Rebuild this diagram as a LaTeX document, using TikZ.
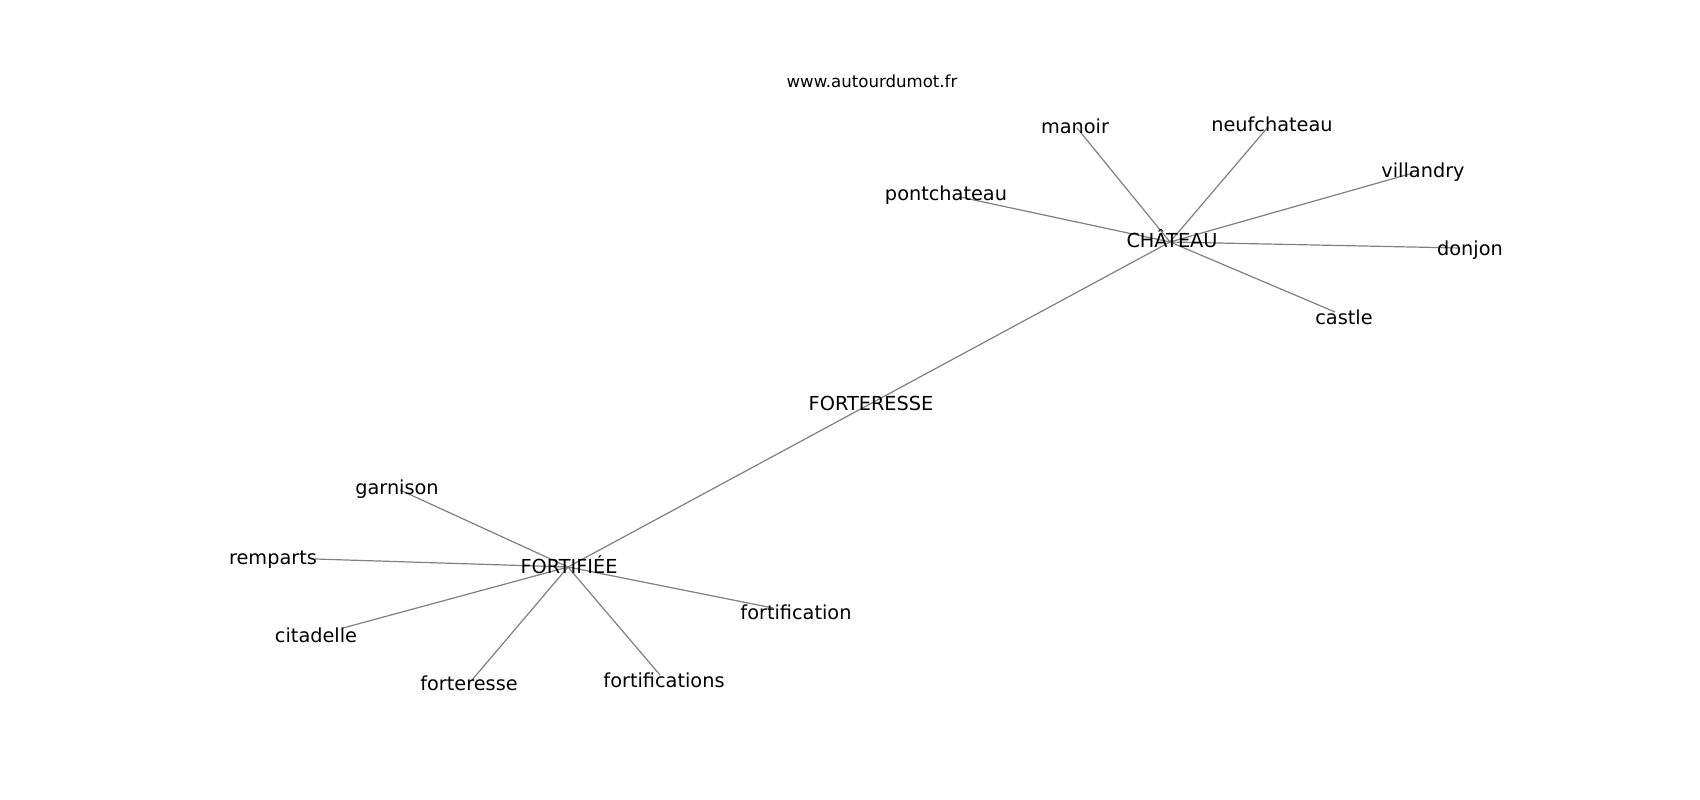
\documentclass[tikz,border=0pt]{standalone}
\usepackage{fontspec}
\setmainfont{DejaVu Sans}
\begin{document}
\begin{tikzpicture}[x=1pt,y=-1pt,
  lbl/.style={anchor=base,inner sep=0pt,font=\fontsize{19.3}{23}\selectfont},
  url/.style={anchor=base,inner sep=0pt,font=\fontsize{16.6}{19}\selectfont},
  edge/.style={draw=black!50,line width=1.2pt}]
\useasboundingbox[fill=white] (0,0) rectangle (1700,800);
% graph vertices
\coordinate (vCh) at (1170,242);
\coordinate (vFo) at (568,567);
\coordinate (vManoir) at (1077,128);
\coordinate (vNeuf) at (1268,127);
\coordinate (vVill) at (1413,173);
\coordinate (vDonjon) at (1460,248);
\coordinate (vCastle) at (1335,312);
\coordinate (vPont) at (960,197);
\coordinate (vGarn) at (400,490);
\coordinate (vRemp) at (315,559);
\coordinate (vCita) at (343,628);
\coordinate (vFort) at (472,680);
\coordinate (vFtns) at (660,675);
\coordinate (vFtn) at (773,608);
% edges
\foreach \v in {vManoir,vNeuf,vVill,vDonjon,vCastle,vPont}
  \draw[edge] (vCh) -- (\v);
\foreach \v in {vGarn,vRemp,vCita,vFort,vFtns,vFtn}
  \draw[edge] (vFo) -- (\v);
\draw[edge] (vCh) -- (vFo);
% labels
\node[url] (url) at (872,88) {www.autourdumot.fr};
\node[lbl] (chateau) at (1172,247) {CHÂTEAU};
\node[lbl] (manoir) at (1075,133) {manoir};
\node[lbl] (neuf) at (1272,131) {neufchateau};
\node[lbl] (vill) at (1423,177) {villandry};
\node[lbl] (donjon) at (1470,255) {donjon};
\node[lbl] (castle) at (1344,324) {castle};
\node[lbl] (pont) at (946,200) {pontchateau};
\node[lbl] (forteresseU) at (871,410) {FORTERESSE};
\node[lbl] (fortifiee) at (569,573) {FORTIFIÉE};
\node[lbl] (garn) at (397,494) {garnison};
\node[lbl] (remp) at (273,564) {remparts};
\node[lbl] (cita) at (316,642) {citadelle};
\node[lbl] (fort) at (469,690) {forteresse};
\node[lbl] (ftns) at (664,687) {fortifications};
\node[lbl] (ftn) at (796,619) {fortification};
\end{tikzpicture}
\end{document}
